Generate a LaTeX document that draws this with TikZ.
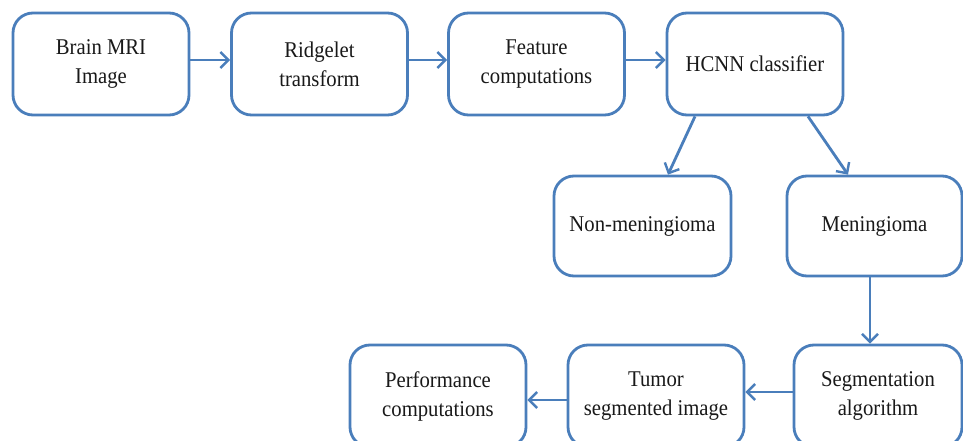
\documentclass[tikz,border=0pt]{standalone}
\usepackage{fontspec}
\setmainfont{Liberation Serif}[FakeStretch=0.92]
\usetikzlibrary{arrows.meta}
\definecolor{boxblue}{RGB}{74,126,187}
\begin{document}
\begin{tikzpicture}[x=1pt,y=-1pt,
  flowbox/.style={draw=boxblue, line width=2.8pt, rounded corners=20pt, fill=white,
    minimum width=176pt, minimum height=102pt, align=center, inner sep=2pt,
    font=\fontsize{22.5}{29}\selectfont, text=black!90},
  flowarrow/.style={draw=boxblue, line width=2.8pt, -{Straight Barb[length=8pt,width=16pt,line width=2.4pt]}}]
\clip (0,0) rectangle (963,441);
\fill[white] (0,0) rectangle (963,441);
% row 1
\node[flowbox] (b1) at (101,64) {Brain MRI\\Image};
\node[flowbox] (b2) at (319.5,64) {Ridgelet\\transform};
\node[flowbox] (b3) at (536.5,64) {Feature\\computations};
\node[flowbox] (b4) at (755,64) {HCNN classifier};
% row 2
\node[flowbox, minimum width=177pt, minimum height=100pt] (nm) at (642.5,226) {Non-meningioma};
\node[flowbox, minimum width=175pt, minimum height=100pt] (me) at (874.5,226) {Meningioma};
% row 3
\node[flowbox] (pc) at (438,396) {Performance\\computations};
\node[flowbox] (ts) at (656,396) {Tumor\\segmented image};
\node[flowbox, minimum width=168pt] (sa) at (878,396) {Segmentation\\algorithm};
% arrows
\draw[flowarrow] ([yshift=4pt]b1.east) -- ([yshift=4pt]b2.west);
\draw[flowarrow] ([yshift=4pt]b2.east) -- ([yshift=4pt]b3.west);
\draw[flowarrow] ([yshift=4pt]b3.east) -- ([yshift=4pt]b4.west);
\draw[flowarrow] ([xshift=-60pt]b4.south) -- ([xshift=25.5pt]nm.north);
\draw[flowarrow] ([xshift=53pt]b4.south) -- ([xshift=-26.5pt]me.north);
\draw[flowarrow] ([xshift=-4.5pt]me.south) -- ([xshift=-4.5pt]me.south |- sa.north);
\draw[flowarrow] ([yshift=4pt]sa.west) -- ([yshift=4pt]ts.east);
\draw[flowarrow] ([yshift=-4pt]ts.west) -- ([yshift=-4pt]pc.east);
\end{tikzpicture}
\end{document}
